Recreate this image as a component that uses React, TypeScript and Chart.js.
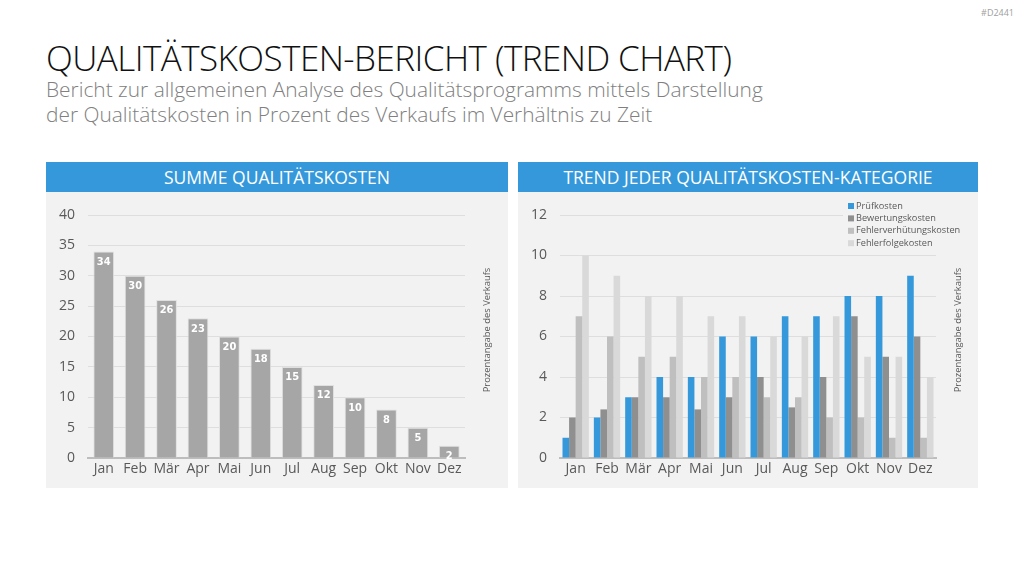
import React, { useEffect, useRef } from "react";
import { Chart, registerables } from "chart.js";

Chart.register(...registerables);

const months = ["Jan", "Feb", "Mär", "Apr", "Mai", "Jun", "Jul", "Aug", "Sep", "Okt", "Nov", "Dez"];
const totalCosts = [34, 30, 26, 23, 20, 18, 15, 12, 10, 8, 5, 2];
const pruefkosten = [1, 2, 3, 4, 4, 6, 6, 7, 7, 8, 8, 9];
const bewertungskosten = [2, 2.4, 3, 3, 2.4, 3, 4, 2.5, 4, 7, 5, 6];
const fehlerverhuetungskosten = [7, 6, 5, 5, 4, 4, 3, 3, 2, 2, 1, 1];
const fehlerfolgekosten = [10, 9, 8, 8, 7, 7, 6, 6, 7, 5, 5, 4];
const seriesNames = ["Prüfkosten", "Bewertungskosten", "Fehlerverhütungskosten", "Fehlerfolgekosten"];
const seriesColors = ["#3498db", "#8f8f8f", "#bfbfbf", "#d9d9d9"];
const leftAxisMax = 40;
const leftAxisStep = 5;
const rightAxisMax = 12;
const rightAxisStep = 2;
const axisTitle = "Prozentangabe des Verkaufs";

const FONT = "'Open Sans', 'Noto Sans', sans-serif";
const TICK_COLOR = "#595959";
const GRID_COLOR = "#dedede";
const PANEL_BG = "#f2f2f2";

const axisTitlePlugin = {
  id: "axisTitleRight",
  afterDraw(chart: any) {
    const { ctx, chartArea } = chart;
    ctx.save();
    ctx.translate(chartArea.right + 22, 138);
    ctx.rotate(-Math.PI / 2);
    ctx.font = `9.4px ${FONT}`;
    ctx.fillStyle = TICK_COLOR;
    ctx.textAlign = "center";
    ctx.textBaseline = "middle";
    ctx.fillText(axisTitle, 0, 0);
    ctx.restore();
  },
};

const valueLabelPlugin = {
  id: "valueLabels",
  afterDatasetsDraw(chart: any) {
    const { ctx } = chart;
    const meta = chart.getDatasetMeta(0);
    const data = chart.data.datasets[0].data;
    ctx.save();
    ctx.font = `bold 11px 'DejaVu Sans Condensed', 'Roboto', sans-serif`;
    ctx.fillStyle = "#ffffff";
    ctx.textAlign = "center";
    ctx.textBaseline = "top";
    meta.data.forEach((bar: any, i: number) => {
      ctx.fillText(String(data[i]), bar.x, bar.y + 5);
    });
    ctx.restore();
  },
};

const legendPlugin = {
  id: "customLegend",
  afterDraw(chart: any) {
    const { ctx } = chart;
    const x0 = 328;
    const y0 = 7;
    ctx.save();
    ctx.fillStyle = PANEL_BG;
    ctx.fillRect(x0 - 3, y0 - 1, 120, 52);
    ctx.font = `9.2px ${FONT}`;
    ctx.textBaseline = "middle";
    ctx.textAlign = "left";
    chart.data.datasets.forEach((ds: any, i: number) => {
      const y = y0 + 7 + i * 12.4;
      ctx.fillStyle = ds.backgroundColor;
      ctx.fillRect(x0 + 2, y - 3, 6, 6);
      ctx.fillStyle = TICK_COLOR;
      ctx.fillText(ds.label, x0 + 10, y);
    });
    ctx.restore();
  },
};

function scalesFor(max: number, step: number) {
  return {
    x: {
      grid: { display: false, drawTicks: false },
      border: { display: true, color: "#bdbdbd", width: 2 },
      ticks: { color: TICK_COLOR, font: { family: FONT, size: 14 }, padding: 3, maxRotation: 0 },
      afterFit(scale: any) {
        scale.height = 30;
      },
    },
    y: {
      min: 0,
      max,
      grid: { color: GRID_COLOR, lineWidth: 1, drawTicks: false },
      border: { display: false },
      ticks: { stepSize: step, color: TICK_COLOR, font: { family: FONT, size: 14 }, padding: 13 },
      afterFit(scale: any) {
        scale.width = 42;
      },
    },
  };
}

function LeftChart() {
  const ref = useRef<HTMLCanvasElement>(null);
  useEffect(() => {
    const chart = new Chart(ref.current!, {
      type: "bar",
      data: {
        labels: months,
        datasets: [
          {
            label: "Summe",
            data: totalCosts,
            backgroundColor: "#a6a6a6",
            borderColor: "#e0e0e0",
            borderWidth: 1,
            barPercentage: 0.66,
            categoryPercentage: 1,
          },
        ],
      },
      options: {
        animation: false,
        responsive: false,
        layout: { padding: { left: 0, top: 23, right: 43, bottom: 0 } },
        plugins: { legend: { display: false }, tooltip: { enabled: false } },
        scales: scalesFor(leftAxisMax, leftAxisStep) as any,
      },
      plugins: [axisTitlePlugin, valueLabelPlugin],
    });
    return () => chart.destroy();
  }, []);
  return <canvas ref={ref} width={462} height={296} style={{ display: "block" }} />;
}

function RightChart() {
  const ref = useRef<HTMLCanvasElement>(null);
  useEffect(() => {
    const seriesData = [pruefkosten, bewertungskosten, fehlerverhuetungskosten, fehlerfolgekosten];
    const chart = new Chart(ref.current!, {
      type: "bar",
      data: {
        labels: months,
        datasets: seriesData.map((d, i) => ({
          label: seriesNames[i],
          data: d,
          backgroundColor: seriesColors[i],
          barPercentage: 1,
          categoryPercentage: 0.84,
        })),
      },
      options: {
        animation: false,
        responsive: false,
        layout: { padding: { left: 0, top: 23, right: 42, bottom: 0 } },
        plugins: { legend: { display: false }, tooltip: { enabled: false } },
        scales: scalesFor(rightAxisMax, rightAxisStep) as any,
      },
      plugins: [axisTitlePlugin, legendPlugin],
    });
    return () => chart.destroy();
  }, []);
  return <canvas ref={ref} width={460} height={296} style={{ display: "block" }} />;
}

const headerStyle: React.CSSProperties = {
  position: "absolute",
  height: 30,
  background: "#3498db",
  color: "#ffffff",
  fontFamily: FONT,
  fontSize: 17.5,
  lineHeight: "30px",
  textAlign: "center",
  whiteSpace: "nowrap",
};

export default function App() {
  return (
    <div
      style={{
        position: "absolute",
        left: 0,
        top: 0,
        width: 1024,
        height: 576,
        background: "#ffffff",
        overflow: "hidden",
        fontFamily: FONT,
      }}
    >
      <div style={{ position: "absolute", right: 10, top: 6, fontSize: 9, color: "#a0a0a0" }}>#D2441</div>
      <div
        style={{
          position: "absolute",
          left: 46,
          top: 34,
          fontSize: 35,
          fontWeight: 300,
          color: "#111111",
          whiteSpace: "nowrap",
          letterSpacing: -0.55,
        }}
      >
        QUALITÄTSKOSTEN-BERICHT (TREND CHART)
      </div>
      <div
        style={{
          position: "absolute",
          left: 46,
          top: 77,
          fontSize: 20.9,
          fontWeight: 300,
          lineHeight: "25px",
          color: "#808080",
          whiteSpace: "nowrap",
        }}
      >
        Bericht zur allgemeinen Analyse des Qualitätsprogramms mittels Darstellung
        <br />
        der Qualitätskosten in Prozent des Verkaufs im Verhältnis zu Zeit
      </div>

      <div style={{ ...headerStyle, left: 46, top: 162, width: 462 }}>SUMME QUALITÄTSKOSTEN</div>
      <div style={{ position: "absolute", left: 46, top: 192, width: 462, height: 296, background: PANEL_BG }}>
        <LeftChart />
      </div>

      <div style={{ ...headerStyle, left: 518, top: 162, width: 460 }}>TREND JEDER QUALITÄTSKOSTEN-KATEGORIE</div>
      <div style={{ position: "absolute", left: 518, top: 192, width: 460, height: 296, background: PANEL_BG }}>
        <RightChart />
      </div>
    </div>
  );
}
